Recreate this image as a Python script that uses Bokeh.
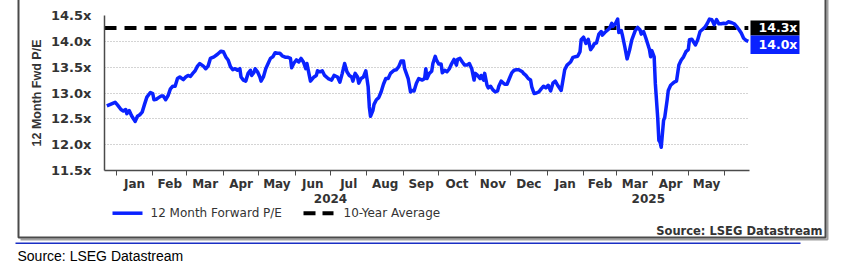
import pandas as pd
from bokeh.plotting import figure
from bokeh.models import (Range1d, FixedTicker, CustomJSTickFormatter, PrintfTickFormatter,
                          DatetimeAxis, ColumnDataSource)
from bokeh.core.properties import value
from bokeh.embed import file_html
from bokeh.resources import INLINE

# ---------------- data ----------------
dates = [
    "2023-12-24", "2023-12-28", "2023-12-31", "2024-01-02", "2024-01-05", "2024-01-07", "2024-01-09",
    "2024-01-10", "2024-01-12", "2024-01-14", "2024-01-17", "2024-01-19", "2024-01-21", "2024-01-23",
    "2024-01-25", "2024-01-27", "2024-01-30", "2024-02-01", "2024-02-02", "2024-02-04", "2024-02-06",
    "2024-02-08", "2024-02-10", "2024-02-12", "2024-02-14", "2024-02-16", "2024-02-18", "2024-02-20",
    "2024-02-22", "2024-02-24", "2024-02-27", "2024-02-29", "2024-03-02", "2024-03-04", "2024-03-06",
    "2024-03-08", "2024-03-10", "2024-03-12", "2024-03-15", "2024-03-17", "2024-03-19", "2024-03-21",
    "2024-03-24", "2024-03-27", "2024-03-30", "2024-04-01", "2024-04-03", "2024-04-05", "2024-04-07",
    "2024-04-09", "2024-04-11", "2024-04-13", "2024-04-15", "2024-04-16", "2024-04-18", "2024-04-20",
    "2024-04-22", "2024-04-24", "2024-04-25", "2024-04-27", "2024-04-28", "2024-04-30", "2024-05-02",
    "2024-05-03", "2024-05-05", "2024-05-07", "2024-05-09", "2024-05-11", "2024-05-13", "2024-05-15",
    "2024-05-17", "2024-05-19", "2024-05-21", "2024-05-24", "2024-05-26", "2024-05-28", "2024-05-29",
    "2024-05-31", "2024-06-02", "2024-06-04", "2024-06-06", "2024-06-08", "2024-06-10", "2024-06-11",
    "2024-06-13", "2024-06-14", "2024-06-17", "2024-06-19", "2024-06-20", "2024-06-22", "2024-06-24",
    "2024-06-26", "2024-06-29", "2024-07-01", "2024-07-02", "2024-07-04", "2024-07-07", "2024-07-09",
    "2024-07-11", "2024-07-13", "2024-07-15", "2024-07-17", "2024-07-19", "2024-07-20", "2024-07-22",
    "2024-07-24", "2024-07-25", "2024-07-27", "2024-07-29", "2024-07-31", "2024-08-02", "2024-08-03",
    "2024-08-04", "2024-08-06", "2024-08-07", "2024-08-09", "2024-08-11", "2024-08-13", "2024-08-15",
    "2024-08-17", "2024-08-19", "2024-08-21", "2024-08-24", "2024-08-26", "2024-08-28", "2024-08-30",
    "2024-09-01", "2024-09-02", "2024-09-05", "2024-09-07", "2024-09-08", "2024-09-10", "2024-09-12",
    "2024-09-14", "2024-09-17", "2024-09-19", "2024-09-20", "2024-09-21", "2024-09-23", "2024-09-25",
    "2024-09-26", "2024-09-28", "2024-09-29", "2024-10-01", "2024-10-03", "2024-10-04", "2024-10-06",
    "2024-10-08", "2024-10-10", "2024-10-12", "2024-10-14", "2024-10-16", "2024-10-17", "2024-10-19",
    "2024-10-21", "2024-10-23", "2024-10-25", "2024-10-27", "2024-10-29", "2024-10-31", "2024-11-01",
    "2024-11-03", "2024-11-05", "2024-11-06", "2024-11-08", "2024-11-09", "2024-11-11", "2024-11-12",
    "2024-11-14", "2024-11-16", "2024-11-18", "2024-11-20", "2024-11-21", "2024-11-23", "2024-11-26",
    "2024-11-28", "2024-11-30", "2024-12-02", "2024-12-04", "2024-12-06", "2024-12-08", "2024-12-11",
    "2024-12-12", "2024-12-14", "2024-12-16", "2024-12-18", "2024-12-19", "2024-12-21", "2024-12-23",
    "2024-12-25", "2024-12-27", "2024-12-29", "2024-12-31", "2025-01-02", "2025-01-04", "2025-01-06",
    "2025-01-08", "2025-01-10", "2025-01-13", "2025-01-14", "2025-01-16", "2025-01-18", "2025-01-21",
    "2025-01-23", "2025-01-25", "2025-01-27", "2025-01-29", "2025-01-30", "2025-02-01", "2025-02-03",
    "2025-02-05", "2025-02-07", "2025-02-09", "2025-02-10", "2025-02-12", "2025-02-14", "2025-02-16",
    "2025-02-17", "2025-02-19", "2025-02-21", "2025-02-23", "2025-02-25", "2025-02-26", "2025-02-28",
    "2025-03-02", "2025-03-03", "2025-03-05", "2025-03-06", "2025-03-08", "2025-03-10", "2025-03-12",
    "2025-03-14", "2025-03-17", "2025-03-19", "2025-03-21", "2025-03-22", "2025-03-24", "2025-03-26",
    "2025-03-29", "2025-03-30", "2025-03-31", "2025-04-02", "2025-04-03", "2025-04-05", "2025-04-06",
    "2025-04-07", "2025-04-08", "2025-04-10", "2025-04-11", "2025-04-13", "2025-04-14", "2025-04-16",
    "2025-04-19", "2025-04-21", "2025-04-23", "2025-04-25", "2025-04-27", "2025-04-29", "2025-05-01",
    "2025-05-02", "2025-05-04", "2025-05-07", "2025-05-09", "2025-05-11", "2025-05-13", "2025-05-15",
    "2025-05-17", "2025-05-19", "2025-05-21", "2025-05-23", "2025-05-25", "2025-05-27", "2025-05-29",
    "2025-05-31", "2025-06-02", "2025-06-04", "2025-06-07", "2025-06-09", "2025-06-11", "2025-06-13",
    "2025-06-15", "2025-06-17", "2025-06-19", "2025-06-21",
]
fwd_pe = [
    12.75, 12.79, 12.82, 12.77, 12.68, 12.65, 12.68,
    12.60, 12.66, 12.56, 12.45, 12.55, 12.58, 12.63,
    12.78, 12.92, 13.01, 12.99, 12.87, 12.88, 12.91,
    12.94, 12.94, 12.87, 12.95, 13.08, 13.13, 13.13,
    13.28, 13.31, 13.26, 13.31, 13.34, 13.32, 13.38,
    13.43, 13.52, 13.57, 13.52, 13.47, 13.52, 13.67,
    13.70, 13.75, 13.81, 13.80, 13.70, 13.64, 13.51,
    13.45, 13.47, 13.44, 13.47, 13.31, 13.25, 13.23,
    13.38, 13.44, 13.34, 13.40, 13.47, 13.41, 13.31,
    13.23, 13.31, 13.47, 13.57, 13.67, 13.70, 13.78,
    13.77, 13.77, 13.72, 13.69, 13.69, 13.67, 13.49,
    13.58, 13.64, 13.60, 13.67, 13.60, 13.47, 13.57,
    13.34, 13.23, 13.31, 13.34, 13.43, 13.41, 13.43,
    13.34, 13.28, 13.26, 13.25, 13.34, 13.31, 13.21,
    13.38, 13.57, 13.41, 13.34, 13.31, 13.23, 13.38,
    13.31, 13.19, 13.28, 13.31, 13.43, 13.12, 12.73,
    12.55, 12.66, 12.78, 12.87, 12.91, 13.02, 13.17,
    13.28, 13.28, 13.38, 13.44, 13.45, 13.51, 13.62,
    13.62, 13.47, 13.28, 13.02, 13.05, 13.04, 13.19,
    13.28, 13.25, 13.28, 13.47, 13.28, 13.38, 13.42,
    13.57, 13.71, 13.64, 13.56, 13.56, 13.39, 13.44,
    13.41, 13.47, 13.57, 13.65, 13.54, 13.65, 13.67,
    13.60, 13.54, 13.54, 13.57, 13.47, 13.25, 13.38,
    13.34, 13.28, 13.34, 13.25, 13.38, 13.15, 13.10,
    13.13, 13.06, 13.02, 13.04, 13.13, 13.23, 13.17,
    13.17, 13.28, 13.39, 13.44, 13.45, 13.45, 13.41,
    13.38, 13.34, 13.28, 13.25, 13.12, 12.99, 13.00,
    13.02, 13.08, 13.13, 13.10, 13.15, 13.04, 13.19,
    13.23, 13.15, 13.05, 13.18, 13.45, 13.54, 13.60,
    13.69, 13.70, 13.71, 13.80, 14.03, 14.08, 13.96,
    14.04, 13.84, 13.90, 13.95, 13.97, 14.14, 14.19,
    14.12, 14.17, 14.21, 14.25, 14.35, 14.29, 14.34,
    14.43, 14.17, 14.21, 14.12, 13.90, 13.66, 13.82,
    14.03, 14.21, 14.27, 14.22, 14.14, 14.19, 14.06,
    13.84, 13.70, 13.82, 13.70, 13.18, 12.53, 12.08,
    12.05, 11.95, 12.47, 12.53, 12.86, 13.05, 13.15,
    13.21, 13.23, 13.54, 13.64, 13.70, 13.80, 13.84,
    14.03, 14.04, 13.93, 14.03, 14.19, 14.23, 14.27,
    14.34, 14.43, 14.42, 14.32, 14.42, 14.34, 14.34,
    14.35, 14.34, 14.38, 14.36, 14.34, 14.29, 14.23,
    14.16, 14.06, 14.02, 14.00,
]
avg_10y = 14.26
y_ticks = [11.5, 12.0, 12.5, 13.0, 13.5, 14.0, 14.5]
x_start = "2023-12-22"
x_end = "2025-06-22"
month_names = ["Jan", "Feb", "Mar", "Apr", "May", "Jun", "Jul", "Aug", "Sep", "Oct", "Nov", "Dec"]
series_names = ["12 Month Forward P/E", "10-Year Average"]
source_text = "Source: LSEG Datastream"

# ---------------- styling ----------------
BLUE = "#0a22ff"
TXT = "#333333"
AX = "#4a4a4a"
FONT = value("DejaVu Sans")

# frame geometry (pixels) used for decorations outside the plot area
FL, FR, FT, FB = 104, 749, 15, 170
Y0, Y1 = 11.5, 14.5

src = ColumnDataSource(dict(date=pd.to_datetime(dates), pe=fwd_pe))
t0 = pd.Timestamp(x_start)
t1 = pd.Timestamp(x_end)
to_ms = lambda ts: ts.value / 1e6
t0_ms, t1_ms = to_ms(t0), to_ms(t1)


def px_x(px):
    return t0_ms + (px - FL) * (t1_ms - t0_ms) / (FR - FL)


def px_y(py):
    return Y1 - (py - FT) * (Y1 - Y0) / (FB - FT)


p = figure(width=841, height=266, x_axis_type="datetime",
           x_range=Range1d(t0, t1), y_range=Range1d(Y0, Y1),
           output_backend="svg", toolbar_location=None,
           min_border_left=FL, min_border_right=841 - FR, min_border_top=FT,
           min_border_bottom=266 - FB)
p.outline_line_color = None
p.background_fill_color = "white"
p.border_fill_color = "white"

# grid
p.xgrid.visible = False
p.ygrid.grid_line_color = "#a8a8a8"
p.ygrid.grid_line_dash = "1 2"
p.ygrid.grid_line_width = 1

# y axis
p.yaxis.ticker = FixedTicker(ticks=y_ticks)
p.yaxis.formatter = PrintfTickFormatter(format="%.1fx")
p.yaxis.major_label_text_font = "DejaVu Sans"
p.yaxis.major_label_text_font_style = "bold"
p.yaxis.major_label_text_font_size = "13px"
p.yaxis.major_label_text_color = TXT
p.yaxis.major_label_standoff = 13
p.yaxis.major_tick_out = 0
p.yaxis.major_tick_in = 0
p.yaxis.minor_tick_out = 0
p.yaxis.minor_tick_in = 0
p.yaxis.axis_line_color = AX
p.yaxis.axis_line_width = 1.5
p.yaxis.axis_label = "12 Month Fwd P/E"
p.yaxis.axis_label_text_font = "Liberation Sans"
p.yaxis.axis_label_text_font_style = "bold"
p.yaxis.axis_label_text_font_size = "12.5px"
p.yaxis.axis_label_text_color = TXT
p.yaxis.axis_label_standoff = 4

# x axis: month boundaries as minor ticks, month names at mid-month
starts = pd.date_range("2024-01-01", "2025-06-01", freq="MS")
mids = [starts[i] + (starts[i + 1] - starts[i]) / 2 for i in range(len(starts) - 1)]
p.xaxis.ticker = FixedTicker(ticks=[to_ms(m) for m in mids], minor_ticks=[to_ms(s) for s in starts])
p.xaxis.formatter = CustomJSTickFormatter(args=dict(names=month_names),
                                          code="return names[new Date(tick).getUTCMonth()];")
p.xaxis.major_label_text_font = "DejaVu Sans"
p.xaxis.major_label_text_font_style = "bold"
p.xaxis.major_label_text_font_size = "12px"
p.xaxis.major_label_text_color = TXT
p.xaxis.major_label_standoff = 1
p.xaxis.major_tick_out = 0
p.xaxis.major_tick_in = 0
p.xaxis.minor_tick_out = 5
p.xaxis.minor_tick_in = 0
p.xaxis.minor_tick_line_color = AX
p.xaxis.minor_tick_line_width = 1
p.xaxis.axis_line_color = AX
p.xaxis.axis_line_width = 1.5

# second x axis with the years, centred on each year's part of the range
y2025_mid = pd.Timestamp("2025-01-01") + (t1 - pd.Timestamp("2025-01-01")) / 2
year_axis = DatetimeAxis(
    ticker=FixedTicker(ticks=[to_ms(pd.Timestamp("2024-07-01")), to_ms(y2025_mid)]),
    formatter=CustomJSTickFormatter(code="return String(new Date(tick).getUTCFullYear());"),
    axis_line_color=None, major_tick_out=0, major_tick_in=0, minor_tick_out=0, minor_tick_in=0,
    major_label_standoff=0, major_label_text_font="DejaVu Sans",
    major_label_text_font_style="bold", major_label_text_font_size="12px",
    major_label_text_color=TXT)
p.add_layout(year_axis, "below")

# series
p.line(x=[t0, pd.Timestamp(dates[-1])], y=[avg_10y, avg_10y],
       line_color="black", line_width=4, line_dash="12 8")
p.line(x="date", y="pe", source=src, line_color=BLUE, line_width=3.5, line_join="round")

OV = dict(level="overlay")

# legend (drawn below the plot area)
leg_y = px_y(212.7)
p.line(x=[px_x(112), px_x(142)], y=[leg_y, leg_y], line_color=BLUE, line_width=3.5, **OV)
p.line(x=[px_x(303), px_x(333)], y=[leg_y, leg_y], line_color="black", line_width=4,
       line_dash="12 7", **OV)
p.text(x=[px_x(150), px_x(343)], y=[leg_y, leg_y], text=series_names,
       text_font=FONT, text_font_size="12px", text_color=TXT,
       text_baseline="middle", text_align="left", **OV)

# value boxes at the right end
avg_py = FT + (Y1 - avg_10y) * (FB - FT) / (Y1 - Y0)
last_val = fwd_pe[-1]
p.quad(left=[px_x(750)], right=[px_x(799)], top=[px_y(avg_py - 7.5)], bottom=[px_y(avg_py + 7.5)],
       fill_color="black", line_color=None, **OV)
p.quad(left=[px_x(750)], right=[px_x(799)], top=[px_y(avg_py + 7.5)], bottom=[px_y(avg_py + 26)],
       fill_color=BLUE, line_color=None, **OV)
p.text(x=[px_x(758), px_x(758)], y=[px_y(avg_py), px_y(avg_py + 17)],
       text=[f"{avg_10y:.1f}x", f"{last_val:.1f}x"],
       text_font=FONT, text_font_style="bold", text_font_size="12.5px", text_color="white",
       text_baseline="middle", text_align="left", **OV)

# in-chart source
p.text(x=[px_x(822)], y=[px_y(230)], text=[source_text], text_font=FONT,
       text_font_style="bold", text_font_size="11.5px", text_color=TXT,
       text_baseline="middle", text_align="right", **OV)

# outer chart frame with shadow
p.line(x=[px_x(20), px_x(827), px_x(827)], y=[px_y(239), px_y(239), px_y(-3)],
       line_color="#a0a0a0", line_width=2, **OV)
p.line(x=[px_x(18), px_x(18), px_x(825), px_x(825)], y=[px_y(-3), px_y(237), px_y(237), px_y(-3)],
       line_color="#4a4a4a", line_width=2, **OV)

# blue rule and caption below the chart
p.line(x=[px_x(15), px_x(800)], y=[px_y(242.7), px_y(242.7)], line_color="#1a2fc4",
       line_width=1.5, **OV)
p.text(x=[px_x(17)], y=[px_y(255)], text=[source_text], text_font=value("Liberation Sans"),
       text_font_size="14px", text_color="black", text_baseline="middle",
       text_align="left", **OV)

open("out.html", "w").write(file_html(p, INLINE))
